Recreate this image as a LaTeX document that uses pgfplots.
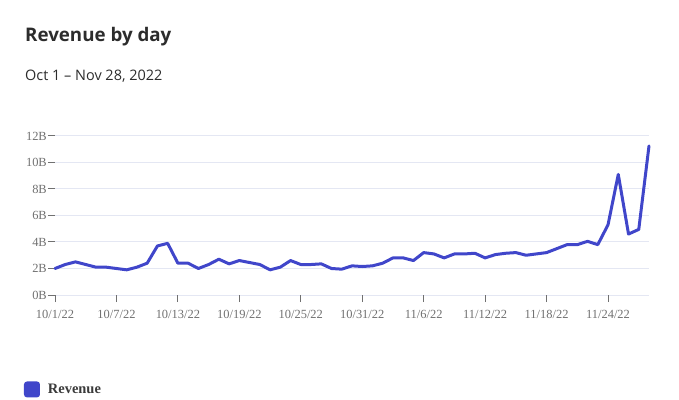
\documentclass[border=0pt]{standalone}
\usepackage{pgfplots}
\pgfplotsset{compat=1.18}
\usepackage{fontspec}
\setmainfont{Liberation Serif}
\newfontfamily\titlefont{Open Sans}
\definecolor{revblue}{HTML}{4046CA}
\definecolor{gridc}{HTML}{E4E7F3}
\definecolor{tickc}{HTML}{707070}
\definecolor{txt}{HTML}{2C2C2C}
\definecolor{legtxt}{HTML}{3A3A3A}
\begin{document}
\begin{tikzpicture}
\useasboundingbox (0bp,0bp) rectangle (679bp,400bp);
\node[anchor=base west, inner sep=0pt, font=\titlefont\bfseries\fontsize{18.8}{21}\selectfont, text=txt] at (25bp,358.5bp) {Revenue by day};
\node[anchor=base west, inner sep=0pt, font=\titlefont\fontsize{14.5}{16}\selectfont, text=txt] at (25bp,319bp) {Oct 1 – Nov 28, 2022};
\begin{axis}[
  at={(55bp,105bp)}, anchor=south west,
  scale only axis, width=594bp, height=159bp,
  xmin=0, xmax=58, ymin=0, ymax=12,
  clip=false,
  axis line style={draw=none},
  ymajorgrids, grid style={gridc, line width=1bp},
  ytick={0,2,4,6,8,10,12},
  yticklabels={0B,2B,4B,6B,8B,10B,12B},
  xtick={0,6,12,18,24,30,36,42,48,54},
  xticklabels={10/1/22,10/7/22,10/13/22,10/19/22,10/25/22,10/31/22,11/6/22,11/12/22,11/18/22,11/24/22},
  tick align=outside, major tick length=7bp,
  tick style={tickc, line width=1bp},
  xtick pos=bottom, ytick pos=left,
  ticklabel style={font=\fontsize{12.5}{14}\selectfont, text=tickc},
  yticklabel style={inner sep=1bp},
  xticklabel style={inner sep=2bp, yshift=-6bp},
  legend style={at={(axis description cs:-0.0522,-0.594)}, anchor=west, draw=none, fill=none, inner sep=0pt, outer sep=0pt, font=\bfseries\fontsize{14.5}{16}\selectfont, text=legtxt, legend cell align=left},
  legend image code/.code={\fill[revblue, draw=none, rounded corners=3bp] (0bp,-8bp) rectangle (16bp,8bp); \path[draw=none, fill=none] (16bp,0bp) -- (22bp,0bp);},
]
\addplot[revblue, line width=3bp, line join=round, line cap=round, no marks] table {
x y
0 2.0
1 2.3
2 2.5
3 2.3
4 2.1
5 2.1
6 2.0
7 1.9
8 2.1
9 2.4
10 3.7
11 3.9
12 2.4
13 2.4
14 2.0
15 2.3
16 2.7
17 2.35
18 2.6
19 2.45
20 2.3
21 1.9
22 2.1
23 2.6
24 2.3
25 2.3
26 2.35
27 2.0
28 1.95
29 2.2
30 2.15
31 2.2
32 2.4
33 2.8
34 2.8
35 2.6
36 3.2
37 3.1
38 2.8
39 3.1
40 3.1
41 3.15
42 2.8
43 3.05
44 3.15
45 3.2
46 3.0
47 3.1
48 3.2
49 3.5
50 3.8
51 3.8
52 4.05
53 3.8
54 5.3
55 9.1
56 4.6
57 4.95
58 11.25
};
\addlegendentry{Revenue}
\end{axis}
\end{tikzpicture}
\end{document}
